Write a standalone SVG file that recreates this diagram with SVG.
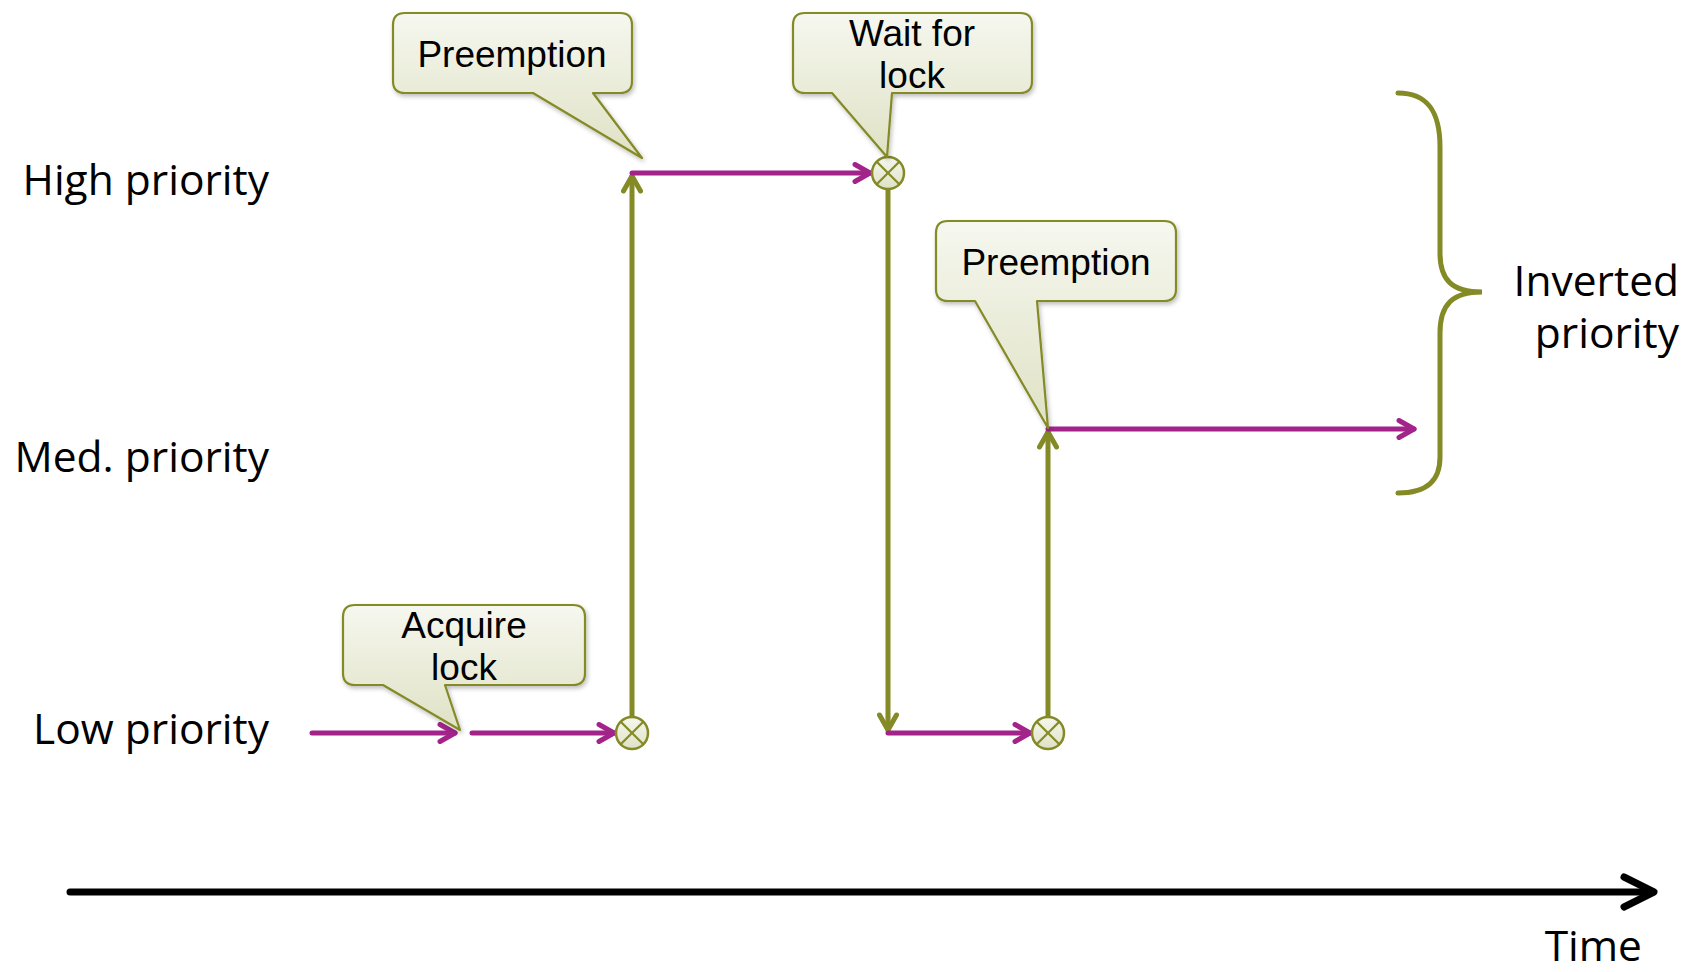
<svg xmlns="http://www.w3.org/2000/svg" width="1693" height="972" viewBox="0 0 1693 972">
  <style>
    .lbl { font-family: "Open Sans", "Noto Sans", sans-serif; font-size: 42.5px; fill: #000; }
    .ctext { font-family: "Liberation Sans", Arial, sans-serif; font-size: 37px; fill: #000; text-anchor: middle; }
    .callout { fill: url(#cfill); stroke: #848a25; stroke-width: 2.2; stroke-linejoin: round; filter: url(#shadow); }
    .pline { fill: none; stroke: #a3238a; stroke-width: 5; stroke-linecap: round; }
    .oline { fill: none; stroke: #848a25; stroke-width: 5; stroke-linecap: round; }
    .junction { fill: url(#jfill); stroke: #848a25; stroke-width: 2.5; }
    .jx { stroke: #848a25; stroke-width: 2.2; }
  </style>
  <defs>
    <linearGradient id="cfill" x1="0" y1="0" x2="0" y2="1">
      <stop offset="0" stop-color="#f6f7ef"/>
      <stop offset="1" stop-color="#dfe2c5"/>
    </linearGradient>
    <linearGradient id="jfill" x1="0" y1="0" x2="0" y2="1">
      <stop offset="0" stop-color="#f6f7ef"/>
      <stop offset="1" stop-color="#dfe2c5"/>
    </linearGradient>
    <filter id="shadow" x="-20%" y="-20%" width="140%" height="140%">
      <feDropShadow dx="1.5" dy="2.5" stdDeviation="2" flood-color="#000" flood-opacity="0.25"/>
    </filter>
    <marker id="pArrow" viewBox="0 0 22 22" refX="19" refY="11" markerWidth="22" markerHeight="22" markerUnits="userSpaceOnUse" orient="auto">
      <path d="M4,2.5 L19,11 L4,19.5" fill="none" stroke="#a3238a" stroke-width="5" stroke-linecap="round" stroke-linejoin="round"/>
    </marker>
    <marker id="oArrow" viewBox="0 0 22 22" refX="19" refY="11" markerWidth="22" markerHeight="22" markerUnits="userSpaceOnUse" orient="auto">
      <path d="M4,2.5 L19,11 L4,19.5" fill="none" stroke="#848a25" stroke-width="5" stroke-linecap="round" stroke-linejoin="round"/>
    </marker>
  </defs>

  <rect x="0" y="0" width="1693" height="972" fill="#ffffff"/>

  <!-- Row labels -->
  <g id="label-high"><text class="lbl" x="269" y="195" text-anchor="end">High priority</text></g>
  <g id="label-med"><text class="lbl" x="269" y="472" text-anchor="end">Med. priority</text></g>
  <g id="label-low"><text class="lbl" x="269" y="744" text-anchor="end">Low priority</text></g>

  <!-- Connectors -->
  <g id="connectors">
    <line class="pline" x1="312" y1="733" x2="455" y2="733" marker-end="url(#pArrow)"/>
    <line class="pline" x1="472" y1="733" x2="614" y2="733" marker-end="url(#pArrow)"/>
    <line class="oline" x1="632" y1="717" x2="632" y2="176" marker-end="url(#oArrow)"/>
    <line class="pline" x1="632" y1="173" x2="870" y2="173" marker-end="url(#pArrow)"/>
    <line class="oline" x1="888" y1="189" x2="888" y2="730" marker-end="url(#oArrow)"/>
    <line class="pline" x1="888" y1="733" x2="1030" y2="733" marker-end="url(#pArrow)"/>
    <line class="oline" x1="1048" y1="717" x2="1048" y2="432" marker-end="url(#oArrow)"/>
    <line class="pline" x1="1048" y1="429" x2="1414" y2="429" marker-end="url(#pArrow)"/>
  </g>

  <!-- Junctions -->
  <g id="junction-low1">
    <circle class="junction" cx="632" cy="733" r="16"/>
    <line class="jx" x1="620.7" y1="721.7" x2="643.3" y2="744.3"/>
    <line class="jx" x1="643.3" y1="721.7" x2="620.7" y2="744.3"/>
  </g>
  <g id="junction-high">
    <circle class="junction" cx="888" cy="173" r="16"/>
    <line class="jx" x1="876.7" y1="161.7" x2="899.3" y2="184.3"/>
    <line class="jx" x1="899.3" y1="161.7" x2="876.7" y2="184.3"/>
  </g>
  <g id="junction-low2">
    <circle class="junction" cx="1048" cy="733" r="16"/>
    <line class="jx" x1="1036.7" y1="721.7" x2="1059.3" y2="744.3"/>
    <line class="jx" x1="1059.3" y1="721.7" x2="1036.7" y2="744.3"/>
  </g>

  <!-- Callouts -->
  <g id="callout-preemption1">
    <path class="callout" d="M405,13 H620 Q632,13 632,25 V81 Q632,93 620,93 H593 L642,158 L533,93 H405 Q393,93 393,81 V25 Q393,13 405,13 Z"/>
    <text class="ctext" x="512" y="67">Preemption</text>
  </g>
  <g id="callout-waitlock">
    <path class="callout" d="M805,13 H1020 Q1032,13 1032,25 V81 Q1032,93 1020,93 H892 L887,157 L832,93 H805 Q793,93 793,81 V25 Q793,13 805,13 Z"/>
    <text class="ctext" x="912" y="46">Wait for</text>
    <text class="ctext" x="912" y="88">lock</text>
  </g>
  <g id="callout-acquire">
    <path class="callout" d="M355,605 H573 Q585,605 585,617 V673 Q585,685 573,685 H445 L460,730 L383,685 H355 Q343,685 343,673 V617 Q343,605 355,605 Z"/>
    <text class="ctext" x="464" y="638">Acquire</text>
    <text class="ctext" x="464" y="680">lock</text>
  </g>
  <g id="callout-preemption2">
    <path class="callout" d="M948,221 H1164 Q1176,221 1176,233 V289 Q1176,301 1164,301 H1037 L1048,428 L975,301 H948 Q936,301 936,289 V233 Q936,221 948,221 Z"/>
    <text class="ctext" x="1056" y="275">Preemption</text>
  </g>

  <!-- Brace -->
  <g id="brace">
    <path d="M1398,93 C1428,93 1440,112 1440,147 L1440,253 C1440,280 1452,292 1482,292 C1452,292 1440,305 1440,333 L1440,457 C1440,480 1428,493 1398,493" fill="none" stroke="#848a25" stroke-width="5" stroke-linecap="round"/>
  </g>
  <g id="label-inverted">
    <text class="lbl" x="1679" y="296" text-anchor="end">Inverted</text>
    <text class="lbl" x="1679" y="348" text-anchor="end">priority</text>
  </g>

  <!-- Time axis -->
  <g id="time-axis">
    <line x1="70" y1="892" x2="1652" y2="892" stroke="#000" stroke-width="7" stroke-linecap="round"/>
    <path d="M1624,877 L1654,892 L1624,907" fill="none" stroke="#000" stroke-width="7" stroke-linecap="round" stroke-linejoin="round"/>
    <text class="lbl" x="1642" y="961" text-anchor="end">Time</text>
  </g>
</svg>
